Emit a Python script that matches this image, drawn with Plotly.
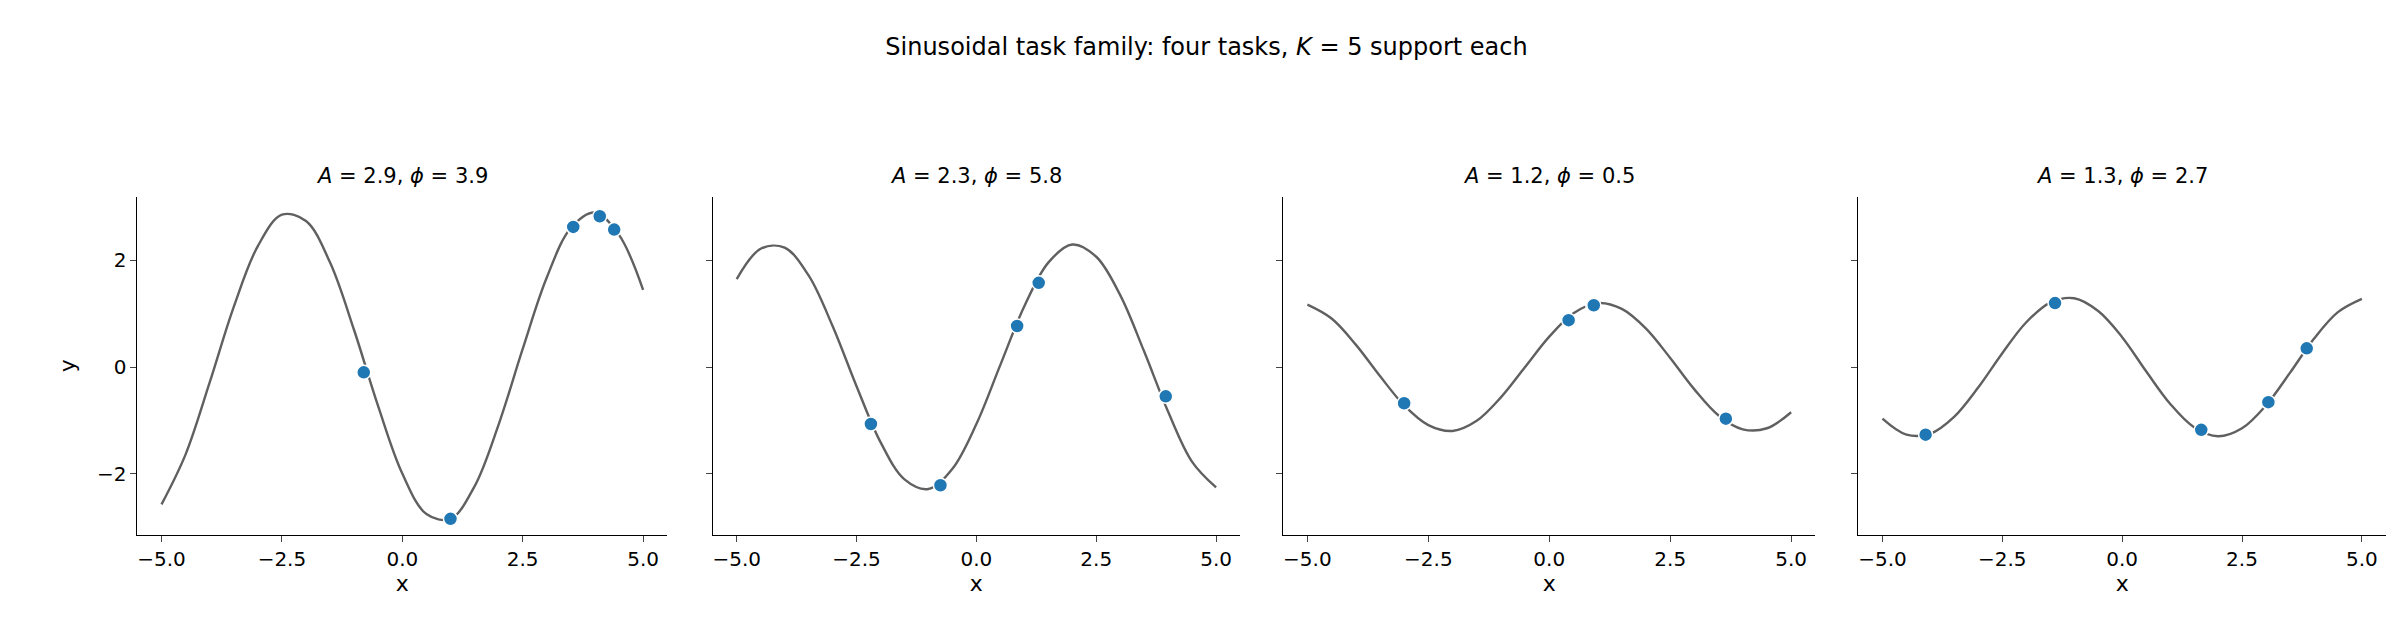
import plotly.graph_objects as go
from plotly.subplots import make_subplots

# curve samples, x from -5 to 5 step 0.5
curve_x = [-5 + 0.5 * i for i in range(21)]
curve_1 = [-2.58, -1.64, -0.29, 1.13, 2.27, 2.86, 2.74, 1.96, 0.69, -0.74, -2.00,
           -2.76, -2.85, -2.24, -1.08, 0.34, 1.68, 2.61, 2.90, 2.48, 1.45]
curve_2 = [1.65, 2.22, 2.24, 1.72, 0.77, -0.36, -1.41, -2.11, -2.29, -1.91, -1.07,
           0.04, 1.14, 1.96, 2.30, 2.07, 1.35, 0.29, -0.84, -1.78, -2.26]
curve_3 = [1.17, 0.91, 0.42, -0.17, -0.72, -1.09, -1.20, -1.01, -0.57, 0.0, 0.57,
           1.01, 1.20, 1.09, 0.72, 0.17, -0.42, -0.91, -1.17, -1.15, -0.85]
curve_4 = [-0.97, -1.27, -1.25, -0.93, -0.38, 0.26, 0.84, 1.21, 1.29, 1.05, 0.56,
           -0.08, -0.69, -1.13, -1.30, -1.15, -0.72, -0.11, 0.53, 1.03, 1.28]

# support points
sup_x_1 = [-0.8, 1.0, 3.55, 4.1, 4.4]
sup_y_1 = [-0.1, -2.85, 2.63, 2.83, 2.58]
sup_x_2 = [-2.2, -0.75, 0.85, 1.3, 3.95]
sup_y_2 = [-1.07, -2.22, 0.77, 1.58, -0.55]
sup_x_3 = [-3.0, 0.4, 0.9, 0.92, 3.65]
sup_y_3 = [-0.68, 0.88, 1.15, 1.16, -0.97]
sup_x_4 = [-4.1, -1.4, 1.65, 3.05, 3.85]
sup_y_4 = [-1.27, 1.2, -1.18, -0.66, 0.35]

titles = ["<i>A</i> = 2.9, <i>ϕ</i> = 3.9", "<i>A</i> = 2.3, <i>ϕ</i> = 5.8",
          "<i>A</i> = 1.2, <i>ϕ</i> = 0.5", "<i>A</i> = 1.3, <i>ϕ</i> = 2.7"]
curves = [curve_1, curve_2, curve_3, curve_4]
sup_x = [sup_x_1, sup_x_2, sup_x_3, sup_x_4]
sup_y = [sup_y_1, sup_y_2, sup_y_3, sup_y_4]

fig = make_subplots(rows=1, cols=4, shared_yaxes=True, horizontal_spacing=0.02)

for i in range(4):
    fig.add_trace(go.Scatter(x=curve_x, y=curves[i], mode="lines",
                             line=dict(color="#606060", width=2.4, shape="spline", smoothing=1.0),
                             showlegend=False), row=1, col=i + 1)
    fig.add_trace(go.Scatter(x=sup_x[i], y=sup_y[i], mode="markers",
                             marker=dict(color="#1f77b4", size=14,
                                         line=dict(color="white", width=1.5)),
                             showlegend=False), row=1, col=i + 1)

doms = [(0.054, 0.275), (0.294, 0.514), (0.532, 0.754), (0.772, 0.992)]
for i, d in enumerate(doms):
    fig.update_xaxes(domain=d, row=1, col=i + 1)
    fig.add_annotation(text=titles[i], x=(d[0] + d[1]) / 2, y=0.715,
                       xref="paper", yref="paper", xanchor="center", yanchor="bottom",
                       showarrow=False, font=dict(size=21))

fig.update_xaxes(range=[-5.5, 5.5], tickvals=[-5, -2.5, 0, 2.5, 5],
                 ticktext=["−5.0", "−2.5", "0.0", "2.5", "5.0"],
                 showgrid=False, zeroline=False, showline=True, linecolor="black",
                 ticks="outside", ticklen=6, title_text="x", title_standoff=4,
                 tickfont=dict(size=20), title_font=dict(size=22))
fig.update_yaxes(range=[-3.15, 3.2], tickvals=[-2, 0, 2], ticktext=["−2", "0", "2"],
                 showgrid=False, zeroline=False, showline=True, linecolor="black",
                 ticks="outside", ticklen=6, tickfont=dict(size=20),
                 domain=[0.173, 0.704])
fig.update_yaxes(title_text="y", title_font=dict(size=22), row=1, col=1)
for i in range(2, 5):
    fig.update_yaxes(showticklabels=False, row=1, col=i)

fig.update_layout(width=2397, height=637, plot_bgcolor="white", paper_bgcolor="white",
                  font=dict(family="DejaVu Sans", color="black"),
                  margin=dict(l=0, r=0, t=0, b=0),
                  title=dict(text="Sinusoidal task family: four tasks, <i>K</i> = 5 support each",
                             x=0.5, xanchor="center", y=0.94, yanchor="middle",
                             font=dict(size=24)))
fig.write_html("out.html")
